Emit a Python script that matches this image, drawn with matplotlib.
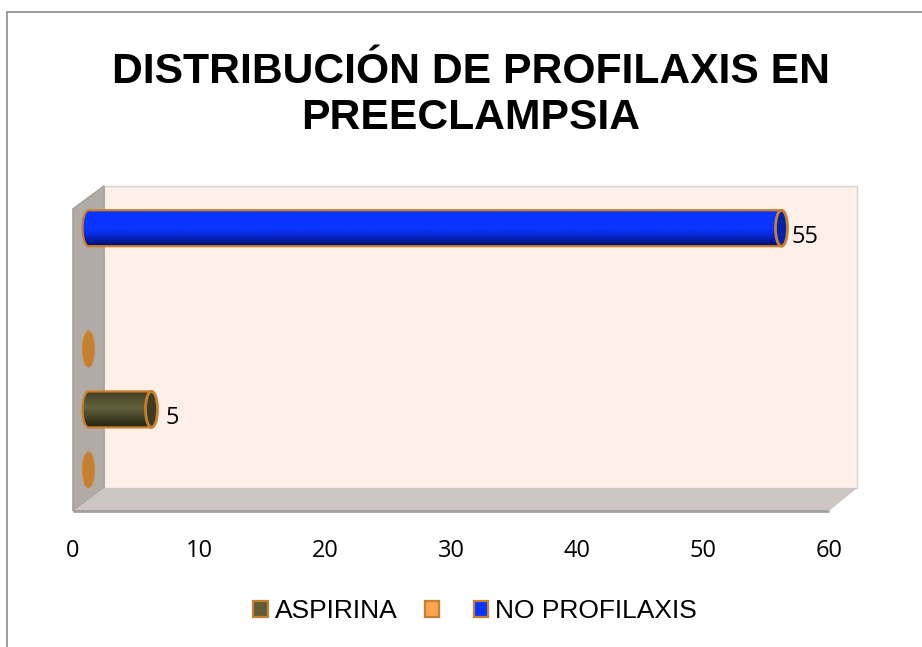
import numpy as np
import matplotlib
matplotlib.use('Agg')
import matplotlib.pyplot as plt
from matplotlib.patches import Ellipse, Patch, PathPatch, Polygon, Rectangle
from matplotlib.path import Path
from matplotlib.colors import LinearSegmentedColormap

# values, categories from bottom to top
aspirina = [None, 5, None, None, None]
en_blanco = [0, None, 0, None, None]
no_profilaxis = [None, None, None, None, 55]
series_labels = ['ASPIRINA', '', 'NO PROFILAXIS']
x_ticks = [0, 10, 20, 30, 40, 50, 60]

W, H = 922, 647
fig = plt.figure(figsize=(W / 100, H / 100), dpi=100)
# front plane of the 3d box
L, R, T, B = 73, 829, 209, 511
ax = fig.add_axes([L / W, 1 - B / H, (R - L) / W, (B - T) / H])
ax.set_xlim(0, 60)
ax.set_ylim(0.5, 5.5)
ax.set_facecolor('none')
for s in ax.spines.values():
    s.set_visible(False)

sx = (R - L) / 60
sy = (B - T) / 5
dx = 31 / sx  # depth of the box in data units
dx_r = 28 / sx
dy = 23 / sy
y0, y1 = 0.5, 5.5

# walls
ax.add_patch(Polygon([(dx, y0 + dy), (60 + dx_r, y0 + dy), (60 + dx_r, y1 + dy), (dx, y1 + dy)],
                     fc='#ffefe9', ec='#d9d4d2', lw=1, clip_on=False, zorder=1))
ax.add_patch(Polygon([(0, y0), (dx, y0 + dy), (dx, y1 + dy), (0, y1)],
                     fc='#b2aaa5', ec='#a3a3a3', lw=1.2, clip_on=False, zorder=2))
ax.add_patch(Polygon([(0, y0), (60, y0), (60 + dx_r, y0 + dy), (dx, y0 + dy)],
                     fc='#cdc5c1', ec='none', clip_on=False, zorder=2))
ax.plot([0, 60], [y0, y0], color='#a0a0a0', lw=2, clip_on=False, zorder=3, solid_capstyle='butt')

edge = '#c8802f'
bar_h = 36 / sy
cap_w = 12 / sx
off_x = 15.5 / sx
off_y = 11 / sy
gradients = {
    'ASPIRINA': [(0, '#3f3c22'), (0.45, '#65623f'), (0.8, '#3e3b22'), (1, '#26240f')],
    'NO PROFILAXIS': [(0, '#0a34ff'), (0.55, '#0a34ff'), (0.8, '#0522b8'), (1, '#000e60')],
}
cap_col = {'ASPIRINA': '#3d3a25', 'NO PROFILAXIS': '#0422a8'}


def cylinder(cat, val, name, label_gap):
    cmap = LinearSegmentedColormap.from_list(name, gradients[name])
    xs = off_x
    xe = val + off_x
    yc = cat + off_y
    # outline of the body: rounded on the left, straight into the end cap on the right
    t = np.linspace(np.pi / 2, 3 * np.pi / 2, 40)
    px = np.r_[xs + cap_w / 2 * np.cos(t), xe, xe, xs]
    py = np.r_[yc + bar_h / 2 * np.sin(t), yc - bar_h / 2, yc + bar_h / 2, yc + bar_h / 2]
    outline = Path(np.c_[px, py])
    shape = PathPatch(outline, fc='none', ec=edge, lw=1.6, zorder=6, clip_on=False, joinstyle='round')
    ax.add_patch(shape)
    im = ax.imshow(np.linspace(0, 1, 64).reshape(-1, 1), cmap=cmap, aspect='auto', zorder=5,
                   extent=(xs - cap_w, xe, yc - bar_h / 2, yc + bar_h / 2), origin='upper')
    im.set_clip_path(PathPatch(outline, transform=ax.transData))
    ax.add_patch(Ellipse((xe, yc), cap_w, bar_h, fc=cap_col[name], ec=edge, lw=2, zorder=7, clip_on=False))
    ax.text(xe + label_gap / sx, yc - 9 / sy, str(val), fontsize=17, family='Open Sans',
            va='center', ha='left', color='black', zorder=8)


for i, v in enumerate(aspirina):
    if v is not None:
        cylinder(i + 1, v, 'ASPIRINA', 14)
for i, v in enumerate(en_blanco):
    if v is not None:
        ax.add_patch(Ellipse((v + off_x, i + 1 + off_y), cap_w, bar_h, fc='#c47f2f', ec='#c98a40',
                             lw=0.8, zorder=5, clip_on=False))
for i, v in enumerate(no_profilaxis):
    if v is not None:
        cylinder(i + 1, v, 'NO PROFILAXIS', 10)

ax.set_xlim(0, 60)
ax.set_ylim(0.5, 5.5)
ax.set_yticks([])
ax.set_xticks(x_ticks)
ax.tick_params(axis='x', length=0, pad=20, labelsize=17)
for t in ax.get_xticklabels():
    t.set_family('Open Sans')

fig.text(471 / W, 1 - 95 / H, 'DISTRIBUCIÓN DE PROFILAXIS EN\nPREECLAMPSIA', ha='center', va='center',
         family='Liberation Sans', fontweight='bold', fontsize=30.7, linespacing=1.17)

handles = [Patch(fc='#5f5b3a', ec=edge, lw=1.6),
           Patch(fc='#ffa34d', ec=edge, lw=1.6),
           Patch(fc='#0a34ff', ec=edge, lw=1.6)]
leg = fig.legend(handles, series_labels, loc='center', bbox_to_anchor=(475 / W, 1 - 611 / H), ncol=3,
                 frameon=False, prop={'family': 'Liberation Sans', 'size': 19},
                 handlelength=0.55, handleheight=0.55, handletextpad=0.25, columnspacing=1.05, borderpad=0)

# outer border of the chart area
fig.add_artist(Rectangle((7 / W, -0.02), 1.1, 1 - 12 / H + 0.02, transform=fig.transFigure,
                         fc='none', ec='#8c8c8c', lw=1.2))

fig.savefig('out.png', dpi=100)
